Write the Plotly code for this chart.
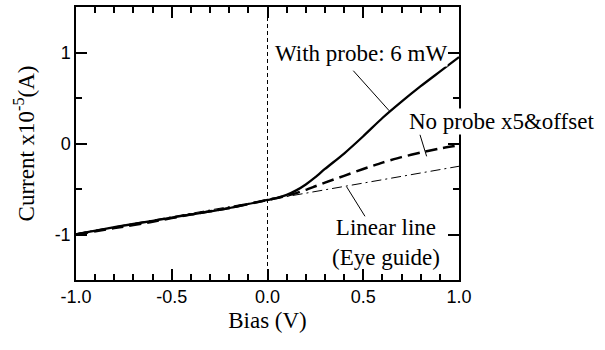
import plotly.graph_objects as go

# Data
bias = [-1.0, -0.8, -0.6, -0.4, -0.2, 0.0, 0.05, 0.1, 0.15, 0.2, 0.25, 0.3, 0.4, 0.5, 0.6, 0.7, 0.8, 0.9, 1.0]
with_probe = [-1.0, -0.92, -0.85, -0.78, -0.71, -0.62, -0.598, -0.565, -0.515, -0.45, -0.37, -0.28, -0.11, 0.08, 0.28, 0.46, 0.63, 0.79, 0.95]
no_probe = [-1.0, -0.93, -0.86, -0.78, -0.71, -0.62, -0.60, -0.575, -0.545, -0.51, -0.47, -0.43, -0.355, -0.28, -0.21, -0.15, -0.10, -0.055, -0.02]
linear_x = [-1.0, 1.0]
linear_y = [-0.99, -0.25]
x_ticks = [-1.0, -0.5, 0.0, 0.5, 1.0]
x_labels = ["-1.0", "-0.5", "0.0", "0.5", "1.0"]
y_ticks = [-1, 0, 1]
y_labels = ["-1", "0", "1"]

SERIF = "Liberation Serif, Times New Roman, serif"
SANS = "Liberation Sans, Arial, sans-serif"

fig = go.Figure()
fig.add_trace(go.Scatter(x=linear_x, y=linear_y, mode="lines",
                         line=dict(color="black", width=1, dash="10px,4px,2px,4px"), showlegend=False))
fig.add_trace(go.Scatter(x=bias, y=no_probe, mode="lines", line_shape="spline",
                         line=dict(color="black", width=2.5, dash="12px,6px", smoothing=0.6), showlegend=False))
fig.add_trace(go.Scatter(x=bias, y=with_probe, mode="lines", line_shape="spline",
                         line=dict(color="black", width=2.3, smoothing=0.6), showlegend=False))

# vertical dashed guide at zero bias
fig.add_shape(type="line", xref="x", yref="paper", x0=0, x1=0, y0=0, y1=1,
              line=dict(color="black", width=1, dash="4px,3px"))

# leader lines
leaders = [((0.448, 0.80), (0.636, 0.359)),
           ((0.796, 0.098), (0.831, -0.141)),
           ((0.413, -0.475), (0.509, -0.80))]
for (x0, y0), (x1, y1) in leaders:
    fig.add_shape(type="line", xref="x", yref="y", x0=x0, y0=y0, x1=x1, y1=y1,
                  line=dict(color="black", width=1))

ann_font = dict(family=SERIF, size=23, color="black")
fig.add_annotation(x=0.490, y=0.99, xref="x", yref="y", text="With probe: 6 mW",
                   showarrow=False, font=ann_font, bgcolor="white", borderpad=0)
fig.add_annotation(x=(501 - 76) / 383, y=(280 - 120) / 275, xref="paper", yref="paper",
                   xanchor="center", yanchor="middle", text="No probe x5&amp;offset",
                   showarrow=False, font=ann_font, bgcolor="white", borderpad=0)
fig.add_annotation(x=0.619, y=-1.09, xref="x", yref="y", text="Linear line<br>(Eye guide)",
                   showarrow=False, font=ann_font, align="center", borderpad=0)

axis_common = dict(showline=True, linecolor="black", linewidth=1.5, mirror="allticks",
                   ticks="inside", tickcolor="black", tickwidth=1.5, ticklen=11,
                   showgrid=False, zeroline=False,
                   tickfont=dict(family=SANS, size=18, color="black"))

fig.update_xaxes(range=[-1.0, 1.0], tickmode="array", tickvals=x_ticks, ticktext=x_labels,
                 minor=dict(dtick=0.1, tick0=0, ticks="inside", ticklen=6, tickwidth=1.5,
                            tickcolor="black", showgrid=False),
                 title=dict(text="Bias (V)", font=dict(family=SERIF, size=23, color="black"), standoff=6),
                 **axis_common)
fig.update_yaxes(range=[-1.5, 1.5], tickmode="array", tickvals=y_ticks, ticktext=y_labels,
                 minor=dict(dtick=0.5, tick0=0, ticks="inside", ticklen=6, tickwidth=1.5,
                            tickcolor="black", showgrid=False),
                 title=dict(text="Current x10<sup>-5</sup>(A)", font=dict(family=SERIF, size=23, color="black"), standoff=14),
                 **axis_common)

fig.update_layout(width=605, height=350, margin=dict(l=76, r=146, t=5, b=70),
                  plot_bgcolor="white", paper_bgcolor="white", showlegend=False)

fig.write_html("out.html")
